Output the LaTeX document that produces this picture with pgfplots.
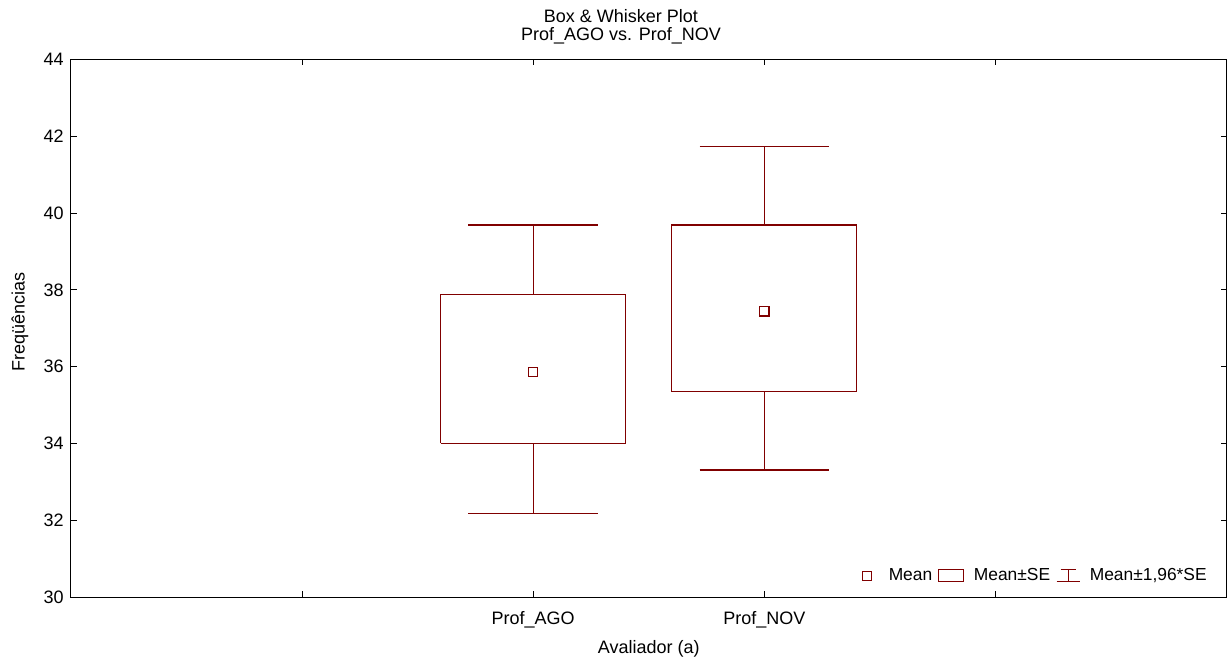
\documentclass[border=0pt]{standalone}
\usepackage{fontspec}
\setmainfont{Liberation Sans}
\usepackage{pgfplots}
\pgfplotsset{compat=1.18}
\definecolor{boxred}{RGB}{128,0,0}

\begin{document}
\begin{tikzpicture}
\begin{axis}[
    width=578pt, height=269pt, scale only axis,
    xmin=0, xmax=5, ymin=30, ymax=44,
    clip=false,
    xtick={1,2,3,4}, xticklabels={,Prof\_AGO,Prof\_NOV,},
    ytick={30,32,...,44},
    tick align=inside, tick pos=both, major tick length=3pt,
    axis line style={black, line width=0.5pt},
    tick style={black, line width=0.4pt},
    /pgf/number format/assume math mode=true,
    tick label style={font=\fontsize{9}{10}\selectfont},
    xticklabel style={anchor=base, yshift=-13.6pt},
    every axis x label/.style={at={(rel axis cs:0.5,0)}, anchor=base, yshift=-28.3pt},
    every axis y label/.style={at={(rel axis cs:0,0.512)}, xshift=-25.35pt, rotate=90, anchor=center},
    label style={font=\fontsize{9}{10}\selectfont},
    xlabel={Avaliador (a)},
    ylabel={Freqüências},
    legend columns=-1,
    legend style={draw=none, fill=none, at={(rel axis cs:0.9865,0.040)}, anchor=east,
        font=\fontsize{8.7}{10}\selectfont, inner sep=0pt,
        /tikz/every odd column/.append style={column sep=2.8pt},
        /tikz/every even column/.append style={column sep=1pt}},
]
% means
\addplot[only marks, mark=square, mark size=2.3pt, boxred, line width=0.6pt, forget plot]
  coordinates {(2,35.86) (3,37.44)};
% boxes: mean +/- SE
\addplot[boxred, line width=0.6pt, forget plot] coordinates {
  (1.6,34.01) (2.4,34.01) (2.4,37.87) (1.6,37.87) (1.6,34.01)};
\addplot[boxred, line width=0.6pt, forget plot] coordinates {
  (2.6,35.35) (3.4,35.35) (3.4,39.69) (2.6,39.69) (2.6,35.35)};
% whiskers: mean +/- 1.96*SE
\addplot[boxred, line width=0.6pt, unbounded coords=jump, forget plot] coordinates {
  (2,37.87) (2,39.69) (nan,nan) (1.72,39.69) (2.28,39.69) (nan,nan)
  (2,34.01) (2,32.19) (nan,nan) (1.72,32.19) (2.28,32.19) (nan,nan)
  (3,39.69) (3,41.74) (nan,nan) (2.72,41.74) (3.28,41.74) (nan,nan)
  (3,35.35) (3,33.31) (nan,nan) (2.72,33.31) (3.28,33.31)};
% legend
\addlegendimage{legend image code/.code={\draw[boxred, line width=0.5pt] (0pt,-2.3pt) rectangle (4.6pt,2.3pt); \path (8.3pt,0pt);}}
\addlegendentry{Mean}
\addlegendimage{legend image code/.code={\draw[boxred, line width=0.5pt] (0pt,-3pt) rectangle (12.5pt,3pt);}}
\addlegendentry{Mean±SE}
\addlegendimage{legend image code/.code={\draw[boxred, line width=0.5pt] (0pt,-3pt) -- (11.5pt,-3pt) (5.75pt,-3pt) -- (5.75pt,3pt) (2pt,3pt) -- (9.5pt,3pt);}}
\addlegendentry{Mean±1,96*SE}
% title
\node[anchor=base, font=\fontsize{9}{10}\selectfont] at (rel axis cs:0.476,1) [yshift=18.3pt] {Box \& Whisker Plot};
\node[anchor=base, font=\fontsize{9}{10}\selectfont] at (rel axis cs:0.476,1) [yshift=9.15pt] {Prof\_AGO vs. Prof\_NOV};
\end{axis}
\pgfresetboundingbox
\path[use as bounding box] ([xshift=-35.35pt,yshift=-29.85pt]current axis.south west) rectangle ([xshift=2.15pt,yshift=29.65pt]current axis.north east);
\end{tikzpicture}
\end{document}
